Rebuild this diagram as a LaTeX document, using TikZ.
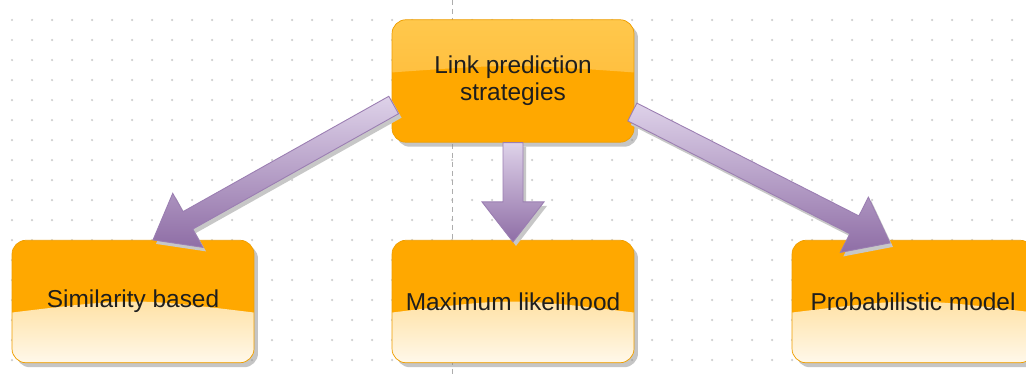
\documentclass[tikz,border=0pt]{standalone}
\usepackage{fontspec}
\setmainfont{Liberation Sans}
\usetikzlibrary{calc,shadows}

\definecolor{boxorange}{HTML}{FFA800}
\definecolor{boxedge}{HTML}{EE9E00}
\definecolor{glosshi}{HTML}{FFC84C}
\definecolor{glosslo}{HTML}{FFB530}
\definecolor{creamtop}{HTML}{FFCC62}
\definecolor{creambot}{HTML}{FFF8EA}
\definecolor{arrlight}{HTML}{DED2E9}
\definecolor{arrdark}{HTML}{8F6EA6}
\definecolor{arrline}{HTML}{9B7EB2}
\definecolor{gridgray}{HTML}{CFCFCF}
\definecolor{txtgray}{HTML}{1E1E1E}

% outline of a fat arrow from #1 (tail) to #2 (tip)
\newcommand{\arrowpath}[2]{($(#1)!0.2cm!90:(#2)$) -- ($(#2b)!0.2cm!90:(#2)$) -- ($(#2b)!0.62cm!90:(#2)$) -- (#2) -- ($(#2b)!0.62cm!-90:(#2)$) -- ($(#2b)!0.2cm!-90:(#2)$) -- ($(#1)!0.2cm!-90:(#2)$) -- cycle}
\newcommand{\fatarrow}[2]{%
	\coordinate (#2b) at ($(#2)!0.8cm!(#1)$);
	\fill[arrshadow] \arrowpath{#1}{#2};
	\shade[arrbody] \arrowpath{#1}{#2};
}

\begin{document}
\begin{tikzpicture}[x=0.02cm, y=0.02cm,
		box/.style={rounded corners=0.28cm, minimum width=4.84cm, minimum height=2.45cm, inner sep=0pt,
			fill=boxorange, draw=boxedge, line width=0.4pt, text=txtgray, align=center,
			font=\fontsize{13.9}{15.5}\selectfont,
			drop shadow={shadow xshift=0.08cm, shadow yshift=-0.09cm, fill=black!45}},
		topbox/.style={box, path picture={
			\shade[sharp corners, top color=glosshi, bottom color=glosslo] (path picture bounding box.north west)
				-- ($(path picture bounding box.south west)!0.57!(path picture bounding box.north west)$)
				.. controls ($(path picture bounding box.south)!0.64!(path picture bounding box.north)$)
				.. ($(path picture bounding box.south east)!0.57!(path picture bounding box.north east)$)
				-- (path picture bounding box.north east) -- cycle;}},
		leafbox/.style={box, path picture={
			\shade[sharp corners, top color=creamtop, bottom color=creambot]
				($(path picture bounding box.south west)!0.41!(path picture bounding box.north west)$)
				.. controls ($(path picture bounding box.south)!0.53!(path picture bounding box.north)$)
				.. ($(path picture bounding box.south east)!0.41!(path picture bounding box.north east)$)
				-- (path picture bounding box.south east) -- (path picture bounding box.south west) -- cycle;}},
		arrbody/.style={top color=arrlight, bottom color=arrdark, draw=arrline, line width=0.5pt},
		arrshadow/.style={fill=black!22, transform canvas={shift={(0.06cm,-0.08cm)}}},
		pagebreak/.style={draw=black!32, line width=0.5pt, dash pattern=on 0.1cm off 0.08cm}]
	\useasboundingbox (0,0) rectangle (1026,376);
	\clip (0,0) rectangle (1026,376);
	\fill[white] (0,0) rectangle (1026,376);
	% dotted grid and page break
	\foreach \gx in {12,32,...,1012}
		\foreach \gy in {16,36,...,356}
			\fill[gridgray] (\gx,\gy) circle (0.025cm);
	\draw[pagebreak] (452,376) -- (452,0);
	% boxes
	\node[topbox] (top) at (513,295) {Link prediction\\strategies};
	\node[leafbox] (simil) at (133,74.5) {Similarity based};
	\node[leafbox] (maxlik) at (513,74.5) {Maximum likelihood};
	\node[leafbox] (prob) at (913,74.5) {Probabilistic model};
	% arrows
	\coordinate (ltail) at ($(top.west)+(2,-24)$);
	\coordinate (lhead) at ($(simil.north)+(20,0)$);
	\coordinate (mtail) at (top.south);
	\coordinate (mhead) at ($(maxlik.north)+(0,-2)$);
	\coordinate (rtail) at ($(top.east)+(-2,-31)$);
	\coordinate (rhead) at ($(prob.north)+(-23,-3)$);
	\fatarrow{ltail}{lhead}
	\fatarrow{mtail}{mhead}
	\fatarrow{rtail}{rhead}
\end{tikzpicture}
\end{document}
